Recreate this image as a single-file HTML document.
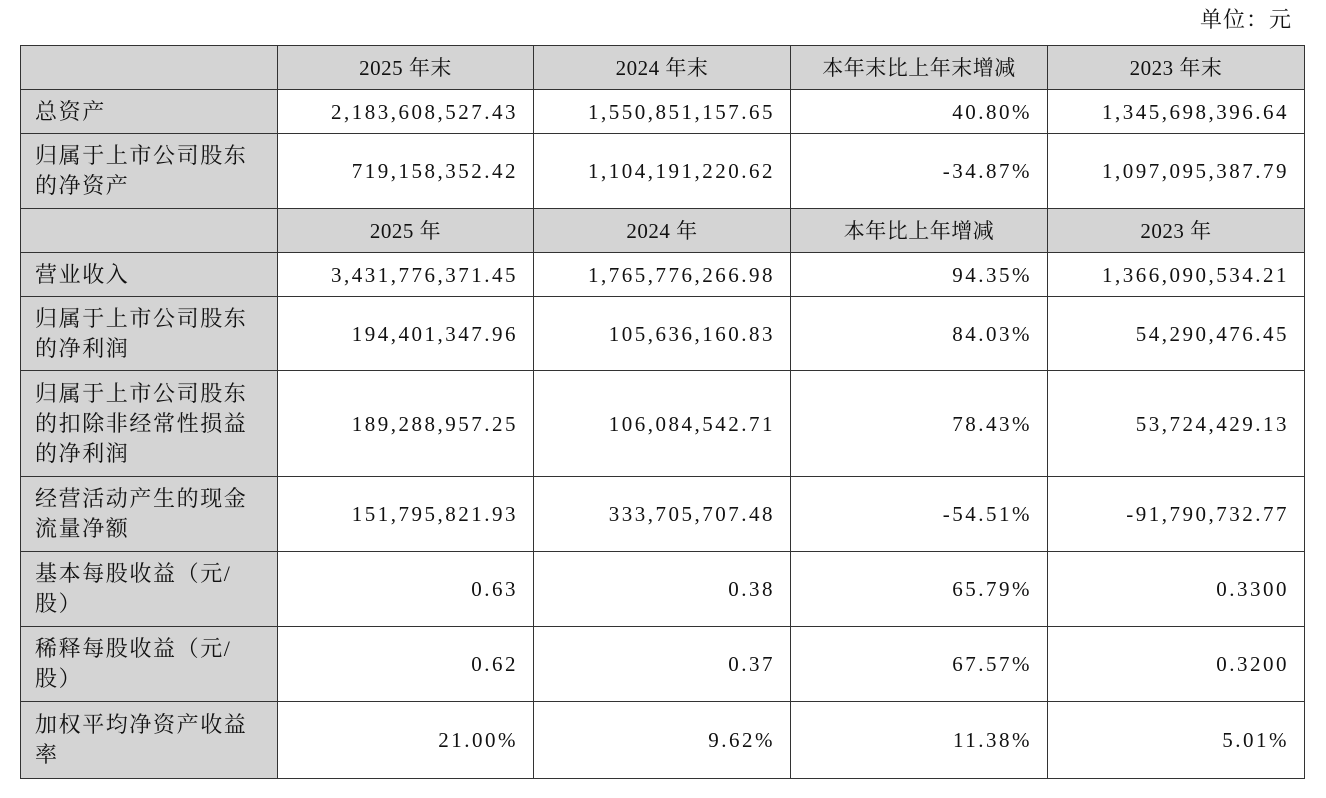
<!DOCTYPE html>
<html><head><meta charset="utf-8"><style>
body{margin:0;width:1326px;height:798px;background:#fff;position:relative;font-family:"Liberation Serif","Noto Serif CJK SC",serif;color:#111}
.unit{position:absolute;right:34px;top:3px;font-size:22px;letter-spacing:1px}
table{position:absolute;left:20px;top:45px;border-collapse:collapse;table-layout:fixed;width:1284px}
td{border:1.5px solid #333;font-size:21px;padding:0;line-height:30px}
td.l{background:#d4d4d4;padding-left:14px;letter-spacing:1.6px;text-align:left;font-size:22px}
td.h{background:#d4d4d4;text-align:center;font-size:21px;letter-spacing:0.5px}
td.n{text-align:right;padding-right:15px;letter-spacing:2.5px}
</style></head><body>
<div class="unit">单位：元</div>
<table>
<colgroup><col style="width:257px"><col style="width:256px"><col style="width:257px"><col style="width:257px"><col style="width:257px"></colgroup>
<tr style="height:44px"><td class="h"></td><td class="h">2025 年末</td><td class="h">2024 年末</td><td class="h">本年末比上年末增减</td><td class="h">2023 年末</td></tr>
<tr style="height:44px"><td class="l">总资产</td><td class="n">2,183,608,527.43</td><td class="n">1,550,851,157.65</td><td class="n">40.80%</td><td class="n">1,345,698,396.64</td></tr>
<tr style="height:75px"><td class="l">归属于上市公司股东<br>的净资产</td><td class="n">719,158,352.42</td><td class="n">1,104,191,220.62</td><td class="n">-34.87%</td><td class="n">1,097,095,387.79</td></tr>
<tr style="height:44px"><td class="h"></td><td class="h">2025 年</td><td class="h">2024 年</td><td class="h">本年比上年增减</td><td class="h">2023 年</td></tr>
<tr style="height:44px"><td class="l">营业收入</td><td class="n">3,431,776,371.45</td><td class="n">1,765,776,266.98</td><td class="n">94.35%</td><td class="n">1,366,090,534.21</td></tr>
<tr style="height:74px"><td class="l">归属于上市公司股东<br>的净利润</td><td class="n">194,401,347.96</td><td class="n">105,636,160.83</td><td class="n">84.03%</td><td class="n">54,290,476.45</td></tr>
<tr style="height:106px"><td class="l">归属于上市公司股东<br>的扣除非经常性损益<br>的净利润</td><td class="n">189,288,957.25</td><td class="n">106,084,542.71</td><td class="n">78.43%</td><td class="n">53,724,429.13</td></tr>
<tr style="height:75px"><td class="l">经营活动产生的现金<br>流量净额</td><td class="n">151,795,821.93</td><td class="n">333,705,707.48</td><td class="n">-54.51%</td><td class="n">-91,790,732.77</td></tr>
<tr style="height:75px"><td class="l">基本每股收益（元/<br>股）</td><td class="n">0.63</td><td class="n">0.38</td><td class="n">65.79%</td><td class="n">0.3300</td></tr>
<tr style="height:75px"><td class="l">稀释每股收益（元/<br>股）</td><td class="n">0.62</td><td class="n">0.37</td><td class="n">67.57%</td><td class="n">0.3200</td></tr>
<tr style="height:77px"><td class="l">加权平均净资产收益<br>率</td><td class="n">21.00%</td><td class="n">9.62%</td><td class="n">11.38%</td><td class="n">5.01%</td></tr>
</table>
</body></html>
